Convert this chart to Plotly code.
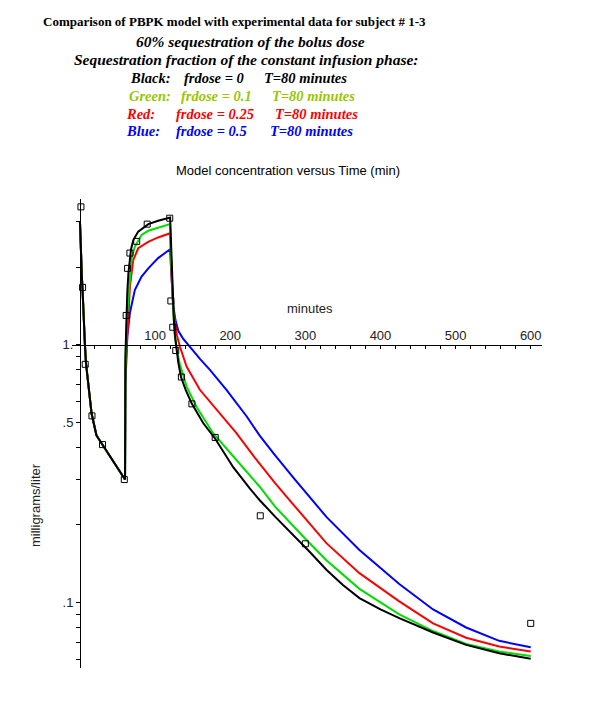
import math
import plotly.graph_objects as go

# ---------------- data ----------------
# bolus phase, identical for all four model curves
t_bolus = [0, 0.7, 1.5, 2.5, 3.5, 4.5, 5.5, 6.6, 8, 11, 15.5, 22, 31, 44, 60]
c_bolus = [3.0, 2.5, 2.1, 1.85, 1.62, 1.3, 1.12, 1.0, 0.85, 0.69, 0.54, 0.445, 0.405, 0.352, 0.30]

# infusion + elimination phases
t_black = [60.5, 61.5, 63, 64.5, 66.5, 68, 71, 77.5, 91, 104, 120, 121, 122, 123, 124, 125, 126.5,
           128.5, 131, 134.5, 141, 149, 164, 180, 204, 226, 239, 260, 284, 306, 328, 350, 372, 400,
           425, 470, 514, 558, 600]
c_black = [0.9, 1.3, 1.6, 1.9, 2.2, 2.35, 2.55, 2.75, 2.94, 3.03, 3.12, 2.5, 1.95, 1.65, 1.45, 1.25,
           1.08, 0.96, 0.85, 0.75, 0.665, 0.59, 0.497, 0.432, 0.335, 0.277, 0.25, 0.215, 0.183,
           0.157, 0.134, 0.117, 0.104, 0.094, 0.087, 0.0765, 0.0685, 0.0635, 0.0605]

t_green = [60.5, 62, 64.2, 66.5, 68.8, 73, 82, 91, 104, 120, 121, 122, 123, 124.5, 126.3, 129, 133,
           141.9, 155, 177, 208, 239, 260, 284, 299, 328, 372, 425, 470, 514, 558, 600]
c_green = [0.85, 1.2, 1.49, 1.85, 2.17, 2.40, 2.67, 2.77, 2.85, 2.94, 2.3, 1.85, 1.55, 1.3, 1.1, 0.95,
           0.84, 0.69, 0.575, 0.455, 0.358, 0.282, 0.235, 0.197, 0.178, 0.146, 0.113, 0.090, 0.0775,
           0.069, 0.0645, 0.062]

t_red = [60.5, 62, 64.2, 66.5, 70.9, 77.5, 90.8, 104, 120, 121, 122, 123, 124.5, 126.3, 129, 133,
         141.9, 159.6, 186, 208, 232.7, 260, 284, 328, 372, 425, 470, 514, 558, 600]
c_red = [0.8, 1.0, 1.25, 1.68, 2.13, 2.37, 2.51, 2.61, 2.71, 2.2, 1.8, 1.55, 1.35, 1.21, 1.09, 0.985,
         0.824, 0.669, 0.543, 0.455, 0.365, 0.29, 0.24, 0.170, 0.130, 0.101, 0.083, 0.073, 0.0675,
         0.0645]

t_blue = [60.5, 62, 63, 66.5, 73, 82, 91, 104, 117.4, 120, 121.5, 123, 124.5, 127, 131, 137, 146, 160,
          173, 195, 222, 239, 259, 284, 328, 372, 425, 470, 514, 558, 600]
c_blue = [0.7, 1.0, 1.08, 1.33, 1.63, 1.84, 1.98, 2.17, 2.33, 2.35, 1.9, 1.6, 1.4, 1.25, 1.13, 1.06,
          0.985, 0.88, 0.80, 0.669, 0.527, 0.445, 0.375, 0.305, 0.215, 0.160, 0.118, 0.094, 0.080,
          0.071, 0.067]

# experimental data (subject # 1-3)
t_obs = [1.3, 3.5, 7, 16, 30, 59, 61.5, 63.4, 66.5, 75.5, 89.5, 119.5, 121, 123.5, 127.5, 135, 149,
         180, 240, 300, 600]
c_obs = [3.43, 1.67, 0.84, 0.53, 0.41, 0.30, 1.30, 1.98, 2.27, 2.52, 2.94, 3.10, 1.48, 1.17, 0.95,
         0.75, 0.59, 0.437, 0.217, 0.169, 0.083]

x_tick_vals = [100, 200, 300, 400, 500, 600]
x_tick_text = ["100", "200", "300", "400", "500", "600"]
y_tick_vals = [0.1, 0.5, 1.0]
y_tick_text = [".1", ".5", "1."]
y_minor_vals = [0.06, 0.07, 0.08, 0.09, 0.2, 0.3, 0.4, 0.6, 0.7, 0.8, 0.9, 2, 3]

# ---------------- layout helpers ----------------
W, H = 600, 720
OFF = 8                      # page body margin of the html page
L, R, T, B = 72, 58, 199, 52  # plot area in screen pixels
X_RANGE = [-10.6, 615]
Y_RANGE = [math.log10(0.0557), math.log10(3.68)]


def px_x(px):
    return (px - L) / (W - L - R)


def px_y(py):
    return (H - B - py) / (H - T - B)


fig = go.Figure()

series = [
    ("Blue", t_blue, c_blue, "#0000ff"),
    ("Red", t_red, c_red, "#ff0000"),
    ("Green", t_green, c_green, "#00dd00"),
    ("Black", t_black, c_black, "#000000"),
]
for name, tt, cc, col in series:
    fig.add_trace(go.Scatter(
        x=t_bolus + tt, y=c_bolus + cc, mode="lines", name=name,
        line=dict(color=col, width=2), showlegend=False, hoverinfo="skip"))

fig.add_trace(go.Scatter(
    x=t_obs, y=c_obs, mode="markers", name="data",
    marker=dict(symbol="square-open", size=6, color="black", line=dict(width=1)),
    showlegend=False))

all_x_ticks = list(range(20, 620, 20))
x_text = [x_tick_text[x_tick_vals.index(v)] if v in x_tick_vals else "" for v in all_x_ticks]
all_y_ticks = sorted(y_tick_vals + y_minor_vals)
y_text = [y_tick_text[y_tick_vals.index(v)] if v in y_tick_vals else "" for v in all_y_ticks]

x_pos = (0 - Y_RANGE[0]) / (Y_RANGE[1] - Y_RANGE[0])
y_pos = (0 - X_RANGE[0]) / (X_RANGE[1] - X_RANGE[0])

fig.update_layout(
    width=W, height=H,
    margin=dict(l=L - OFF, r=R + OFF, t=T - OFF, b=B + OFF, pad=0),
    paper_bgcolor="white", plot_bgcolor="white",
    xaxis=dict(range=X_RANGE, anchor="free", position=x_pos, side="top",
               showline=True, linecolor="black", linewidth=1, showgrid=False, zeroline=False,
               ticks="inside", ticklen=3, tickcolor="black", tickvals=all_x_ticks, ticktext=x_text,
               tickfont=dict(family="Liberation Sans", size=13, color="#222")),
    yaxis=dict(type="log", range=Y_RANGE, anchor="free", position=y_pos,
               showline=True, linecolor="black", linewidth=1, showgrid=False, zeroline=False,
               ticks="outside", ticklen=4, tickcolor="black", tickvals=all_y_ticks, ticktext=y_text,
               tickfont=dict(family="Liberation Sans", size=13, color="#222")),
)

ann = []
sans = "Liberation Sans"
serif = "Liberation Serif"
ann.append(dict(text="Model concentration versus Time (min)", x=px_x(288), y=px_y(170),
                font=dict(family=sans, size=13, color="black")))
ann.append(dict(text="minutes", x=px_x(310), y=px_y(308), font=dict(family=sans, size=13, color="#222")))
ann.append(dict(text="milligrams/liter", x=px_x(35), y=px_y(505), textangle=-90,
                font=dict(family=sans, size=13, color="#222")))
ann.append(dict(text="<b>Comparison of PBPK model with experimental data for subject # 1-3</b>",
                x=px_x(234), y=px_y(22), font=dict(family=serif, size=13, color="black")))
ann.append(dict(text="<b><i>60% sequestration of the bolus dose</i></b>", x=px_x(250), y=px_y(42),
                font=dict(family=serif, size=15.5, color="black")))
ann.append(dict(text="<b><i>Sequestration fraction of the constant infusion phase:</i></b>",
                x=px_x(246.5), y=px_y(60), font=dict(family=serif, size=15.5, color="black")))

rows = [
    ("Black:", "frdose = 0", "T=80 minutes", "black", 78, 128, 182, 262),
    ("Green:", "frdose = 0.1", "T=80 minutes", "#99c600", 96, 127, 179, 270),
    ("Red:", "frdose = 0.25", "T=80 minutes", "#ff0000", 114, 124, 174, 273),
    ("Blue:", "frdose = 0.5", "T=80 minutes", "#0000ff", 131, 124, 174, 268),
]
for a, b, c, col, yy, x1, x2, x3 in rows:
    for txt, xx in ((a, x1), (b, x2), (c, x3)):
        ann.append(dict(text="<b><i>" + txt + "</i></b>", x=px_x(xx), y=px_y(yy), xanchor="left",
                        font=dict(family=serif, size=14.5, color=col)))

for a_ in ann:
    a_.setdefault("xanchor", "center")
    a_.update(xref="paper", yref="paper", yanchor="middle", showarrow=False)
fig.update_layout(annotations=ann)

fig.write_html("out.html")
